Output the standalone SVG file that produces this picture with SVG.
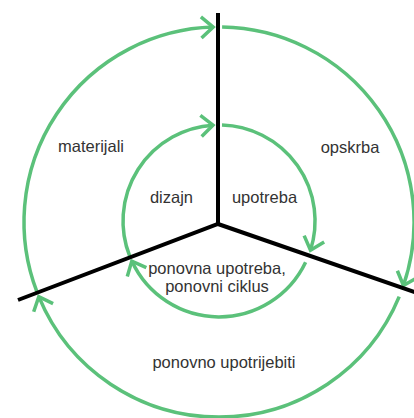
<svg xmlns="http://www.w3.org/2000/svg" width="414" height="418" viewBox="0 0 414 418">
  <style>
    .arc { fill: none; stroke: #5bc17a; stroke-width: 3.5; marker-end: url(#ah); }
    .axis { fill: none; stroke: #000; stroke-width: 4; stroke-linecap: butt; }
    text { font-family: "Liberation Sans", Arial, sans-serif; font-size: 16.5px; fill: #333; text-anchor: middle; }
  </style>
  <defs>
    <marker id="ah" markerUnits="userSpaceOnUse" orient="auto" refX="0" refY="0" markerWidth="20" markerHeight="24" overflow="visible">
      <path d="M-12,-10.5 L0,0 L-12,10.5" fill="none" stroke="#5bc17a" stroke-width="3.5" stroke-linejoin="miter"/>
    </marker>
  </defs>
  <rect width="414" height="418" fill="#fff"/>
  <g id="connectors">
    <path class="arc" d="M36.95,291.9 A195,195 0 0 1 213.2,27.1"/>
    <path class="arc" d="M222.1,27.0 A195,195 0 0 1 403.4,285.5"/>
    <path class="arc" d="M399.2,296.6 A195,195 0 0 1 38.8,296.6"/>
    <path class="arc" d="M129.7,256.2 A96,96 0 0 1 213.0,125.2"/>
    <path class="arc" d="M222.0,125.05 A96,96 0 0 1 310.5,250.2"/>
    <path class="arc" d="M305.6,262.3 A96,96 0 0 1 131.8,261.1"/>
    <path class="axis" d="M218,13 L218,224 M18,300 L218,224 L420,294"/>
  </g>
  <g id="materijali"><text x="91" y="152">materijali</text></g>
  <g id="opskrba"><text x="350" y="153">opskrba</text></g>
  <g id="dizajn"><text x="171.5" y="203">dizajn</text></g>
  <g id="upotreba"><text x="264.5" y="203">upotreba</text></g>
  <g id="ponovna-upotreba"><text x="217" y="274">ponovna upotreba,</text><text x="217" y="292">ponovni ciklus</text></g>
  <g id="ponovno-upotrijebiti"><text x="224" y="368">ponovno upotrijebiti</text></g>
</svg>
